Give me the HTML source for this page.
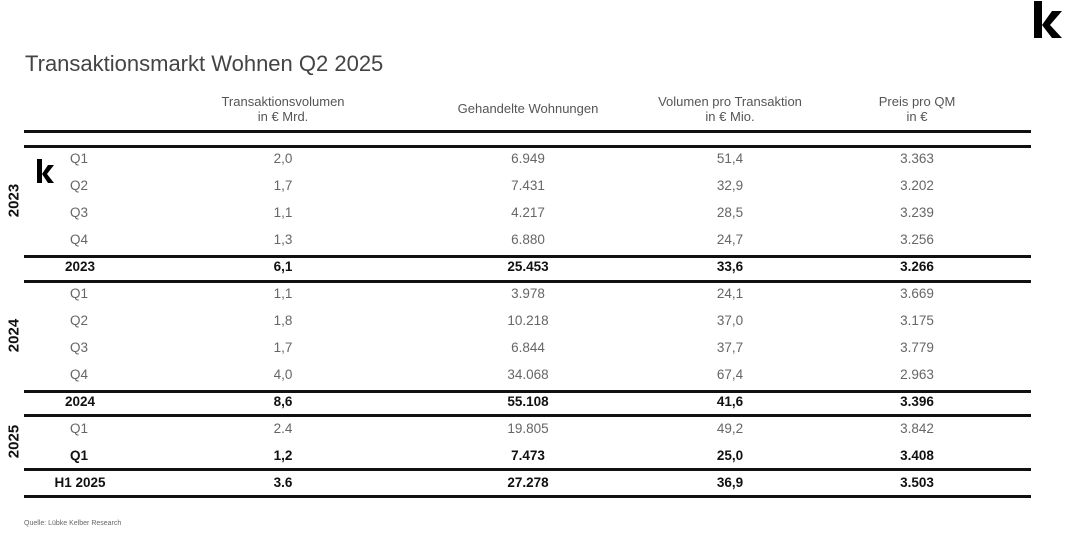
<!DOCTYPE html>
<html><head><meta charset="utf-8"><style>
body{margin:0;width:1068px;height:544px;background:#fff;position:relative;overflow:hidden;font-family:"Liberation Sans",sans-serif;color:#555}
.a{position:absolute;white-space:nowrap}
.c{transform:translateX(-50%);text-align:center}
.h{font-size:13px;color:#555;line-height:15px}
.r{font-size:13.5px;color:#666}
.b{font-weight:bold;color:#111}
.ln{position:absolute;left:24px;width:1007px;background:#111}
</style></head><body>
<svg class="a" style="left:1030px;top:0" width="36" height="40"><polygon points="4,1 12,1 12,38 4,38" fill="#000"/><polygon points="22,11 32,11 20,25 32,38 22,38 12,25" fill="#000"/></svg>
<svg class="a" style="left:36px;top:159px" width="20" height="26"><polygon points="1,0 6,0 6,24 1,24" fill="#000"/><polygon points="12,6 18,6 11,15 18,24 12,24 6,15" fill="#000"/></svg>
<div class="a" style="left:25px;top:51px;font-size:22px;color:#444">Transaktionsmarkt Wohnen Q2 2025</div>
<div class="a c h" style="left:283px;top:94px">Transaktionsvolumen<br>in € Mrd.</div>
<div class="a c h" style="left:528px;top:101px">Gehandelte Wohnungen</div>
<div class="a c h" style="left:730px;top:94px">Volumen pro Transaktion<br>in € Mio.</div>
<div class="a c h" style="left:917px;top:94px">Preis pro QM<br>in €</div>
<div class="ln" style="top:130px;height:3px"></div>
<div class="ln" style="top:145px;height:3px"></div>
<div class="ln" style="top:255px;height:3px"></div>
<div class="ln" style="top:280px;height:3px"></div>
<div class="ln" style="top:390px;height:3px"></div>
<div class="ln" style="top:414px;height:3px"></div>
<div class="ln" style="top:468px;height:3px"></div>
<div class="ln" style="top:495px;height:3px"></div>
<div class="a b" style="left:-6px;top:192px;font-size:15px;transform:rotate(-90deg);width:40px;text-align:center">2023</div>
<div class="a b" style="left:-6px;top:327px;font-size:15px;transform:rotate(-90deg);width:40px;text-align:center">2024</div>
<div class="a b" style="left:-6px;top:433px;font-size:15px;transform:rotate(-90deg);width:40px;text-align:center">2025</div>
<div id="rows"></div>
<script>
var d=[[151,"Q1","2,0","6.949","51,4","3.363",0],[178,"Q2","1,7","7.431","32,9","3.202",0],[205,"Q3","1,1","4.217","28,5","3.239",0],[232,"Q4","1,3","6.880","24,7","3.256",0],[259,"2023","6,1","25.453","33,6","3.266",1],[286,"Q1","1,1","3.978","24,1","3.669",0],[313,"Q2","1,8","10.218","37,0","3.175",0],[340,"Q3","1,7","6.844","37,7","3.779",0],[367,"Q4","4,0","34.068","67,4","2.963",0],[394,"2024","8,6","55.108","41,6","3.396",1],[421,"Q1","2.4","19.805","49,2","3.842",0],[448,"Q1","1,2","7.473","25,0","3.408",1],[475,"H1 2025","3.6","27.278","36,9","3.503",1]];
var h="",xs=[283,528,730,917];
d.forEach(function(r){var cl=r[6]?"a r b":"a r";var lx=r[6]?(r[1]=="Q1"?"left:70px":"left:80px;transform:translateX(-50%)"):"left:70px";
h+='<div class="'+cl+'" style="top:'+r[0]+'px;'+lx+'">'+r[1]+'</div>';
for(var i=0;i<4;i++)h+='<div class="'+cl+' c" style="top:'+r[0]+'px;left:'+xs[i]+'px">'+r[i+2]+'</div>';});
document.getElementById("rows").innerHTML=h;
</script>
<div class="a" style="left:24px;top:520px;font-size:7px;color:#666">Quelle: Lübke Kelber Research</div>
</body></html>
